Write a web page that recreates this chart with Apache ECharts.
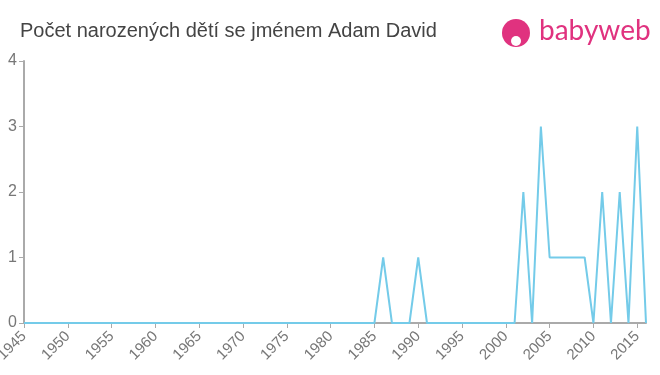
<!DOCTYPE html>
<html><head><meta charset="utf-8">
<script src="https://cdn.jsdelivr.net/npm/echarts@6/dist/echarts.min.js"></script>
<style>html,body{margin:0;padding:0;background:#fff}#c{width:660px;height:375px}</style>
</head><body><div id="c"></div>
<script>
const titleText = "Počet narozených dětí se jménem Adam David";
const years = [1945,1946,1947,1948,1949,1950,1951,1952,1953,1954,1955,1956,1957,1958,1959,1960,1961,1962,1963,1964,1965,1966,1967,1968,1969,1970,1971,1972,1973,1974,1975,1976,1977,1978,1979,1980,1981,1982,1983,1984,1985,1986,1987,1988,1989,1990,1991,1992,1993,1994,1995,1996,1997,1998,1999,2000,2001,2002,2003,2004,2005,2006,2007,2008,2009,2010,2011,2012,2013,2014,2015,2016];
const counts = [0,0,0,0,0,0,0,0,0,0,0,0,0,0,0,0,0,0,0,0,0,0,0,0,0,0,0,0,0,0,0,0,0,0,0,0,0,0,0,0,0,1,0,0,0,1,0,0,0,0,0,0,0,0,0,0,0,2,0,3,1,1,1,1,1,0,2,0,2,0,3,0];
const yTicks = [0,1,2,3,4];

const chart = echarts.init(document.getElementById('c'), null, {renderer:'canvas'});
chart.setOption({
  animation:false,
  title:{text:titleText,left:15,top:16,textStyle:{fontFamily:'Liberation Sans, Arial, sans-serif',fontSize:20,fontWeight:'normal',color:'#444'}},
  graphic:[
    {type:'circle',shape:{cx:516,cy:33,r:14},style:{fill:'#e0327f'}},
    {type:'circle',shape:{cx:516,cy:41,r:5},style:{fill:'#fff'}},
    {type:'text',left:539,top:17,style:{text:'babyweb',fontFamily:'Lato, Open Sans, sans-serif',fontSize:28,fill:'#e0327f'}}
  ],
  grid:{left:24,right:14,top:61,bottom:52,containLabel:false,outerBoundsMode:'none'},
  xAxis:{type:'value',min:1945,max:2016,interval:5,
    axisLine:{lineStyle:{color:'#aaa',width:2}},
    axisTick:{show:true,length:5,lineStyle:{color:'#aaa'}},
    splitLine:{show:false},
    axisLabel:{rotate:45,color:'#777',fontSize:15,fontFamily:'Liberation Sans, Arial, sans-serif',margin:11,showMaxLabel:false,formatter:v=>String(v)}
  },
  yAxis:{type:'value',min:yTicks[0],max:yTicks[yTicks.length-1],interval:1,
    axisLine:{show:true,lineStyle:{color:'#aaa',width:2}},
    axisTick:{show:true,length:5,lineStyle:{color:'#aaa'}},
    splitLine:{show:false},
    axisLabel:{color:'#777',fontSize:16,fontFamily:'Liberation Sans, Arial, sans-serif',margin:7,formatter:v=>String(v)}
  },
  series:[{type:'line',data:years.map((y,i)=>[y,counts[i]]),symbol:'none',
    lineStyle:{color:'#74cbe9',width:2},itemStyle:{color:'#74cbe9'}}]
});
</script></body></html>
